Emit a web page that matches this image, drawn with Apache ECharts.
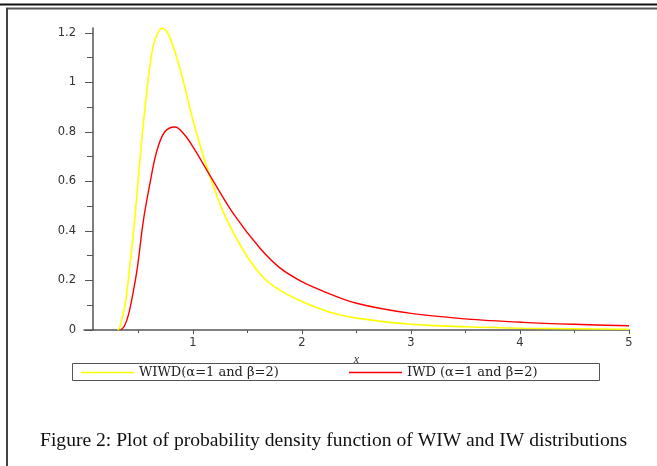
<!DOCTYPE html>
<html>
<head>
<meta charset="utf-8">
<script src="https://cdn.jsdelivr.net/npm/echarts@6/dist/echarts.min.js"></script>
<style>
  html, body { margin: 0; padding: 0; background: #fff; }
  #chart { width: 657px; height: 466px; }
</style>
</head>
<body>
<div id="chart"></div>
<script>
  // values
  var wiwdX = [0.31, 0.33, 0.345, 0.38, 0.416, 0.468, 0.51, 0.553, 0.606, 0.65, 0.717, 0.78, 0.89, 1.01, 1.156, 1.294, 1.477, 1.65, 1.8, 2.0, 2.257, 2.5, 3.0, 3.5, 4.03, 4.5, 5.0]
  var wiwdY = [0, 0.012, 0.04, 0.11, 0.24, 0.46, 0.67, 0.87, 1.07, 1.17, 1.22, 1.19, 1.04, 0.83, 0.62, 0.46, 0.31, 0.21, 0.16, 0.115, 0.072, 0.048, 0.023, 0.013, 0.007, 0.005, 0.003]
  var iwdX = [0.337, 0.37, 0.407, 0.45, 0.489, 0.544, 0.6, 0.666, 0.74, 0.835, 0.92, 1.0, 1.162, 1.37, 1.615, 1.8, 2.0, 2.165, 2.5, 3.0, 3.5, 4.03, 4.5, 5.0]
  var iwdY = [0, 0.015, 0.06, 0.15, 0.25, 0.44, 0.58, 0.72, 0.8, 0.82, 0.79, 0.74, 0.62, 0.47, 0.33, 0.25, 0.195, 0.162, 0.108, 0.067, 0.045, 0.031, 0.023, 0.017]
  var xTicks = [1, 2, 3, 4, 5]
  var yTicks = [0, 0.2, 0.4, 0.6, 0.8, 1, 1.2]
  var yMinor = [0.1, 0.3, 0.5, 0.7, 0.9, 1.1]
  var names = ['WIWD(α=1 and β=2)', 'IWD (α=1 and β=2)']
  var colors = ['#ffff00', '#ff0000']

  function pairs(xs, ys) {
    return xs.map(function (x, i) { return [x, ys[i]] })
  }

  function legendAt(i, left) {
    return {
      left: left,
      top: 366,
      padding: 0,
      icon: 'rect',
      itemWidth: 53,
      itemHeight: 1.5,
      itemGap: 0,
      data: [names[i]],
      textStyle: { fontFamily: 'DejaVu Serif', fontSize: 13, color: '#222' }
    }
  }

  var chart = echarts.init(document.getElementById('chart'))
  var axisGray = '#555'
  var labelFont = { fontFamily: 'DejaVu Sans', fontSize: 11.5, color: '#333' }

  var option = {
    animation: false,
    backgroundColor: '#fff',
    title: {
      text: 'Figure 2: Plot of probability density function of WIW and IW distributions',
      left: 35,
      top: 426,
      textStyle: { fontFamily: 'Liberation Serif', fontSize: 19.6, fontWeight: 'normal', color: '#111' }
    },
    grid: { left: 84, right: 28, top: 28, bottom: 136 },
    legend: [legendAt(0, 81), legendAt(1, 349)],
    xAxis: [{
      type: 'value',
      min: 0,
      max: 5,
      interval: 1,
      name: 'x',
      nameLocation: 'middle',
      nameGap: 17,
      nameTextStyle: { fontFamily: 'Liberation Serif', fontStyle: 'italic', fontSize: 12, color: '#333' },
      axisLine: { onZero: false, lineStyle: { color: axisGray, width: 1.5 } },
      axisTick: { customValues: xTicks, length: 4, lineStyle: { color: axisGray } },
      minorTick: { show: true, splitNumber: 2, length: 3, lineStyle: { color: axisGray } },
      axisLabel: Object.assign({ customValues: xTicks, margin: 7 }, labelFont),
      splitLine: { show: false }
    }],
    yAxis: [{
      type: 'value',
      min: 0,
      max: 1.22,
      offset: -9,
      axisLine: { show: true, onZero: false, lineStyle: { color: axisGray, width: 1.5 } },
      axisTick: { show: true, customValues: yTicks, length: 8, lineStyle: { color: axisGray } },
      axisLabel: Object.assign({ customValues: yTicks, margin: 17 }, labelFont),
      splitLine: { show: false }
    }, {
      type: 'value',
      min: 0,
      max: 1.22,
      position: 'left',
      offset: -9,
      axisLine: { show: false },
      axisTick: { show: true, customValues: yMinor, length: 6, lineStyle: { color: axisGray } },
      axisLabel: { show: false },
      splitLine: { show: false }
    }],
    series: [{
      name: names[0],
      type: 'line',
      data: pairs(wiwdX, wiwdY),
      showSymbol: false,
      symbol: 'none',
      smooth: 0.35,
      color: colors[0],
      lineStyle: { color: colors[0], width: 1.6 }
    }, {
      name: names[1],
      type: 'line',
      data: pairs(iwdX, iwdY),
      showSymbol: false,
      symbol: 'none',
      smooth: 0.35,
      color: colors[1],
      lineStyle: { color: colors[1], width: 1.4 }
    }],
    graphic: [
      { type: 'line', shape: { x1: 0, y1: 4.5, x2: 657, y2: 4.5 }, style: { stroke: '#111', lineWidth: 2 } },
      { type: 'line', shape: { x1: 6, y1: 8.5, x2: 657, y2: 8.5 }, style: { stroke: '#555', lineWidth: 2 } },
      { type: 'line', shape: { x1: 7, y1: 8, x2: 7, y2: 466 }, style: { stroke: '#444', lineWidth: 2 } },
      // legend frame
      { type: 'rect', shape: { x: 72.5, y: 363.5, width: 527, height: 17 }, style: { fill: 'none', stroke: '#555', lineWidth: 1 } }
    ]
  }

  chart.setOption(option)
</script>
</body>
</html>
